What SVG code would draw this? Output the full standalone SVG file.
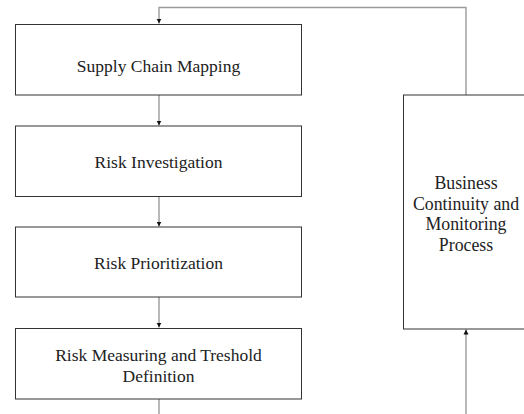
<svg xmlns="http://www.w3.org/2000/svg" width="524" height="414" viewBox="0 0 524 414">
<defs>
<style>
.box{fill:#fff;stroke:#333;stroke-width:1}
.con{fill:none;stroke:#9a9a9a;stroke-width:1.4}
.lbl{font-family:'Liberation Serif','Times New Roman',serif;font-size:17.5px;fill:#222;text-anchor:middle}
</style>
<marker id="ah" markerWidth="6" markerHeight="6" refX="5" refY="3" orient="auto" markerUnits="userSpaceOnUse">
<path d="M0,0.5 L5,3 L0,5.5 Z" fill="#111"/>
</marker>
</defs>
<rect width="524" height="414" fill="#fff"/>
<g id="connectors">
<path class="con" d="M466,95 V7.5 H159 V23.5" marker-end="url(#ah)"/>
<path class="con" d="M159,95 V125.5" marker-end="url(#ah)"/>
<path class="con" d="M159,197 V226.5" marker-end="url(#ah)"/>
<path class="con" d="M159,297 V327.5" marker-end="url(#ah)"/>
<path class="con" d="M159,399 V414"/>
<path class="con" d="M466,414 V329.5" marker-end="url(#ah)"/>
</g>
<g id="n1"><rect class="box" x="15.5" y="24.5" width="286" height="70.5"/><text class="lbl" x="158.5" y="72">Supply Chain Mapping</text></g>
<g id="n2"><rect class="box" x="15.5" y="126" width="286" height="70.5"/><text class="lbl" x="158.5" y="168">Risk Investigation</text></g>
<g id="n3"><rect class="box" x="15.5" y="227" width="286" height="70"/><text class="lbl" x="158.5" y="269">Risk Prioritization</text></g>
<g id="n4"><rect class="box" x="15.5" y="328.5" width="286" height="70.5"/><text class="lbl" x="158.5" y="361">Risk Measuring and Treshold</text><text class="lbl" x="158.5" y="382">Definition</text></g>
<g id="n5"><rect class="box" x="403.5" y="95" width="130" height="234"/><text class="lbl" x="466" y="188.5" style="font-size:17.8px">Business</text><text class="lbl" x="466" y="209.5" style="font-size:17.8px">Continuity and</text><text class="lbl" x="466" y="230" style="font-size:17.8px">Monitoring</text><text class="lbl" x="466" y="250.5" style="font-size:17.8px">Process</text></g>
</svg>
